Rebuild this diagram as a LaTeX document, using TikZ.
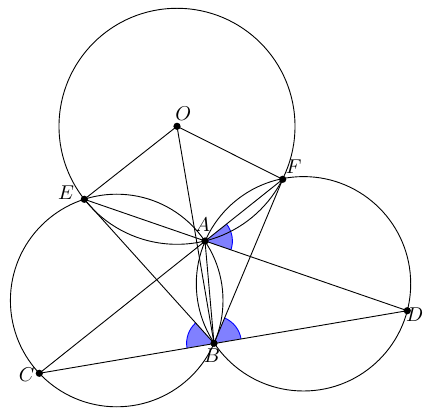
\documentclass[tikz,border=0pt]{standalone}
\usetikzlibrary{angles,calc}
\begin{document}
\begin{tikzpicture}[x=0.5pt,y=0.5pt,
  ln/.style={line width=0.45pt},
  dot/.style={circle,fill=black,inner sep=0pt,minimum size=3.6pt},
  lab/.style={inner sep=0pt},
  wedge/.style={draw=blue,fill=blue!50,line width=0.45pt,angle radius=13.7pt}]
\useasboundingbox (0,0) rectangle (428,412);
% points
\coordinate (O) at (177,285.7);
\coordinate (E) at (84.3,212.7);
\coordinate (F) at (282.7,232.7);
\coordinate (A) at (205,171);
\coordinate (B) at (214,68.7);
\coordinate (C) at (39.3,38.7);
\coordinate (D) at (407.3,101.3);
\coordinate (O1) at (116.7,111.5);
\coordinate (O2) at (303.5,128.2);
% angle marks
\pic[wedge] {angle=D--A--F};
\pic[wedge] {angle=E--B--C};
\pic[wedge] {angle=D--B--F};
% circles
\draw[ln] (O) circle[radius=59pt];
\draw[ln] (O1) circle[radius=53.15pt];
\draw[ln] (O2) circle[radius=53.6pt];
% segments
\draw[ln] (O) -- (E);
\draw[ln] (O) -- (F);
\draw[ln] (O) -- (B);
\draw[ln] (E) -- (D);
\draw[ln] (C) -- (F);
\draw[ln] (C) -- (D);
\draw[ln] (E) -- (B);
\draw[ln] (F) -- (B);
\draw[ln] (A) -- (B);
% dots
\foreach \p in {O,E,F,A,B,C,D} \node[dot] (d\p) at (\p) {};
% labels
\node[lab] (lO) at ($(O)+(6.3,12.3)$) {$O$};
\node[lab] (lF) at ($(F)+(11.1,12.3)$) {$F$};
\node[lab] (lE) at ($(E)+(-18.3,6.3)$) {$E$};
\node[lab] (lA) at ($(A)+(-2.5,16)$) {$A$};
\node[lab] (lB) at ($(B)+(-2,-12.7)$) {$B$};
\node[lab] (lC) at ($(C)+(-12.6,-1.7)$) {$C$};
\node[lab] (lD) at ($(D)+(7.4,-4.3)$) {$D$};
\end{tikzpicture}
\end{document}
